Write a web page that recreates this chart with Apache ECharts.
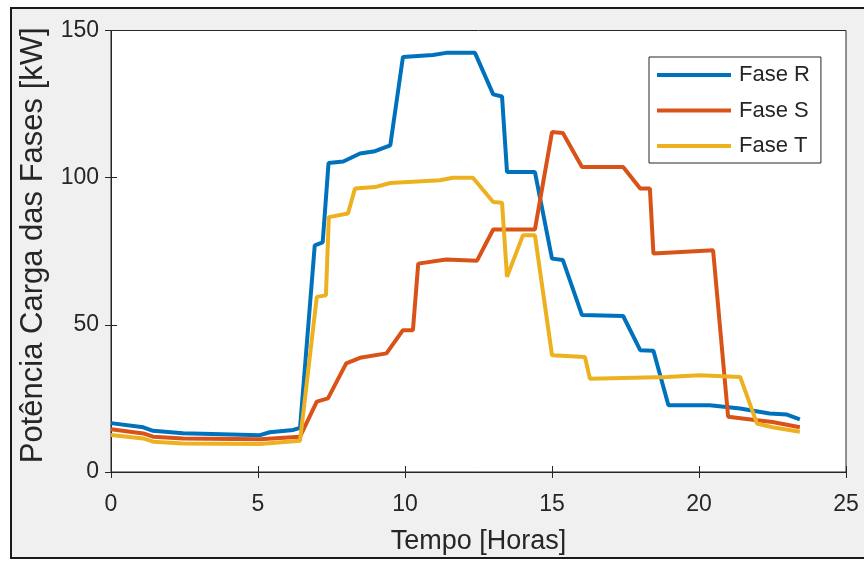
<!DOCTYPE html>
<html>
<head>
<meta charset="utf-8">
<script src="https://cdn.jsdelivr.net/npm/echarts@6/dist/echarts.min.js"></script>
<style>
  html, body { margin: 0; padding: 0; background: #ffffff; }
  #chart { width: 864px; height: 561px; }
</style>
</head>
<body>
<div id="chart"></div>
<script>
// ---- Data ----
const seriesNames = ['Fase R', 'Fase S', 'Fase T'];
const xTicks = [0, 5, 10, 15, 20, 25];
const yTicks = [0, 50, 100, 150];

const hoursR = [0, 1.1, 1.43, 2.45, 5.07, 5.4, 6.2, 6.43, 6.93, 7.2, 7.4, 7.9, 8.47, 8.98, 9.5, 9.93, 10.95, 11.4, 12.38, 13.0, 13.3, 13.47, 14.42, 15.0, 15.37, 16.02, 17.42, 18.0, 18.45, 18.96, 20.37, 21.4, 22.4, 22.99, 23.43];
const faseR  = [16.6, 15.2, 14.0, 13.2, 12.5, 13.5, 14.3, 15.0, 77.0, 78.0, 105.0, 105.5, 108.2, 109.0, 111.0, 141.0, 141.7, 142.4, 142.4, 128.3, 127.6, 101.9, 101.9, 72.5, 72.0, 53.3, 53.0, 41.4, 41.2, 22.7, 22.7, 21.6, 19.9, 19.5, 17.9];

const hoursS = [0, 1.1, 1.43, 2.45, 5.07, 6.43, 7.0, 7.38, 8.0, 8.47, 9.37, 9.93, 10.27, 10.45, 11.4, 12.45, 13.0, 14.42, 15.0, 15.37, 16.02, 17.42, 18.0, 18.33, 18.45, 20.48, 20.99, 21.97, 22.5, 23.43];
const faseS  = [14.5, 13.1, 12.0, 11.4, 11.1, 12.0, 23.9, 25.0, 36.9, 38.8, 40.3, 48.2, 48.2, 70.8, 72.2, 71.8, 82.4, 82.4, 115.5, 115.2, 103.6, 103.6, 96.3, 96.3, 74.2, 75.3, 18.8, 17.6, 17.0, 15.2];

const hoursT = [0, 1.1, 1.43, 2.45, 5.07, 6.43, 7.0, 7.31, 7.41, 8.06, 8.3, 8.98, 9.5, 11.19, 11.63, 12.31, 13.0, 13.3, 13.47, 14.01, 14.42, 15.0, 16.12, 16.29, 18.9, 20.03, 21.4, 21.97, 22.5, 23.43];
const faseT  = [12.6, 11.4, 10.3, 9.7, 9.5, 10.6, 59.5, 60.0, 86.6, 87.8, 96.3, 96.8, 98.2, 99.1, 100.0, 100.0, 91.7, 91.5, 66.3, 80.4, 80.4, 39.7, 39.1, 31.7, 32.3, 32.9, 32.3, 16.5, 15.2, 13.7];

const colors = ['#0072BD', '#D95319', '#EDB120'];

function pairs(xs, ys) { return xs.map((x, i) => [x, ys[i]]); }

const axisColor = '#262626';
const font = 'Arial, "Liberation Sans", Helvetica, sans-serif';

const chart = echarts.init(document.getElementById('chart'), null, { renderer: 'canvas' });

const commonTick = { show: true, inside: true, length: 6, lineStyle: { color: axisColor, width: 1 } };

chart.setOption({
  animation: false,
  backgroundColor: '#ffffff',
  color: colors,
  graphic: [{
    type: 'rect',
    z: -100,
    silent: true,
    shape: { x: 11, y: 8, width: 880, height: 550 },
    style: { fill: '#f0f0f0', stroke: '#1a1a1a', lineWidth: 2 }
  }],
  grid: {
    left: 111, right: 18, top: 30.5, bottom: 89,
    show: true, backgroundColor: '#ffffff', borderColor: axisColor, borderWidth: 1
  },
  legend: {
    orient: 'vertical',
    left: 649, top: 57,
    data: seriesNames,
    icon: 'rect',
    itemWidth: 74, itemHeight: 4,
    itemGap: 13.5,
    padding: [7, 11, 6, 8],
    backgroundColor: '#ffffff',
    borderColor: axisColor,
    borderWidth: 1,
    textStyle: { fontFamily: font, fontSize: 22, color: '#262626', lineHeight: 22, padding: [0, 0, 0, 3] }
  },
  xAxis: [{
    type: 'value', min: 0, max: 25, interval: 5, position: 'bottom',
    name: 'Tempo [Horas]', nameLocation: 'middle', nameGap: 56,
    nameTextStyle: { fontFamily: font, fontSize: 27, color: axisColor },
    axisLine: { show: true, lineStyle: { color: axisColor, width: 1 } },
    axisTick: commonTick,
    axisLabel: { fontFamily: font, fontSize: 23, color: axisColor, margin: 21,
      formatter: v => xTicks.includes(v) ? String(v) : '' },
    splitLine: { show: false }
  }, {
    type: 'value', min: 0, max: 25, interval: 5, position: 'top',
    axisLine: { show: true, lineStyle: { color: axisColor, width: 1 } },
    axisTick: commonTick, axisLabel: { show: false }, splitLine: { show: false }
  }],
  yAxis: [{
    type: 'value', min: 0, max: 150, interval: 50, position: 'left',
    name: 'Potência Carga das Fases [kW]', nameLocation: 'middle', nameGap: 62,
    nameTextStyle: { fontFamily: font, fontSize: 31, color: axisColor, padding: [0, 0, 0, 12] },
    axisLine: { show: true, lineStyle: { color: axisColor, width: 1 } },
    axisTick: commonTick,
    axisLabel: { fontFamily: font, fontSize: 23, color: axisColor, margin: 12,
      formatter: v => yTicks.includes(v) ? String(v) : '' },
    splitLine: { show: false }
  }, {
    type: 'value', min: 0, max: 150, interval: 50, position: 'right',
    axisLine: { show: true, lineStyle: { color: axisColor, width: 1 } },
    axisTick: commonTick, axisLabel: { show: false }, splitLine: { show: false }
  }],
  series: [
    { name: seriesNames[0], type: 'line', data: pairs(hoursR, faseR), showSymbol: false, symbol: 'none',
      lineStyle: { width: 4, color: colors[0] }, itemStyle: { color: colors[0] } },
    { name: seriesNames[1], type: 'line', data: pairs(hoursS, faseS), showSymbol: false, symbol: 'none',
      lineStyle: { width: 4, color: colors[1] }, itemStyle: { color: colors[1] } },
    { name: seriesNames[2], type: 'line', data: pairs(hoursT, faseT), showSymbol: false, symbol: 'none',
      lineStyle: { width: 4, color: colors[2] }, itemStyle: { color: colors[2] } }
  ]
});
</script>
</body>
</html>
